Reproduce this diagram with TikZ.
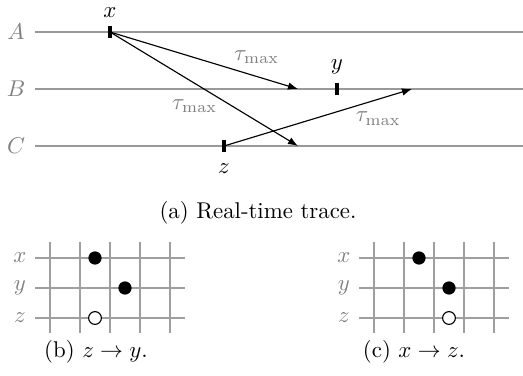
\documentclass[tikz,border=0pt]{standalone}
\usepackage{amsmath}
\usetikzlibrary{arrows.meta,positioning}

\tikzset{
  proc/.style={gray!80,line width=0.5pt},
  proclabel/.style={text=gray},
  evtick/.style={fill=black,inner sep=0pt,minimum width=1.6pt,minimum height=5pt},
  msg/.style={->,line width=0.5pt},
  delay/.style={text=gray},
  gridline/.style={gray!75,line width=0.45pt},
  fulldot/.style={circle,fill=black,inner sep=0pt,minimum size=5.8pt},
  emptydot/.style={circle,draw=black,fill=white,line width=0.5pt,inner sep=0pt,minimum size=5.6pt},
}

\begin{document}
\begin{tikzpicture}[x=4.38pt,y=-4.38pt,>={Latex[length=4.4pt,width=3.3pt]}]
\useasboundingbox (0,0) rectangle (52.3,37.5);

% processes
\foreach \p/\row in {A/3.2,B/8.9,C/14.6}{
  \node[proclabel] (l\p) at (1.6,\row) {$\p$};
  \coordinate (s\p) at (3.5,\row);
  \coordinate (e\p) at (52.3,\row);
  \draw[proc] (s\p) -- (e\p);
}

% events
\node[evtick] (ex) at (11,3.2) {};
\node[evtick] (ey) at (33.7,8.9) {};
\node[evtick] (ez) at (22.4,14.6) {};
\node[above=0.3pt of ex] (nx) {$x$};
\node[above=0.3pt of ey] (ny) {$y$};
\node[below=1.5pt of ez] (nz) {$z$};

% messages, each delayed by at most tau_max
\coordinate (txy) at (29.8,8.9);
\coordinate (txz) at (29.8,14.6);
\coordinate (tzy) at (41.2,8.9);
\draw[msg] (ex.center) -- node[delay,pos=0.78,above=2pt] (d1) {$\tau_{\max}$} (txy);
\draw[msg] (ex.center) -- node[delay,pos=0.45,below=3.5pt] (d2) {$\tau_{\max}$} (txz);
\draw[msg] (ez.center) -- node[delay,pos=0.82,below=2pt] (d3) {$\tau_{\max}$} (tzy);

\node (capa) at (25.8,21.3) {(a) Real-time trace.};

% the two orders
\foreach \gx/\g/\oc in {3.5/b/6,35.9/c/9}{
  \foreach \r/\v in {0/x,1/y,2/z}{
    \node[proclabel] (\g\v) at (\gx-1.5,25.8+3*\r) {$\v$};
    \draw[gridline] (\gx,25.8+3*\r) -- ++(15,0);
  }
  \foreach \c in {0,...,4}
    \draw[gridline] ({\gx+1.5+3*\c},24.2) -- ++(0,9.1);
  \node[fulldot] (\g dx) at (\gx+6,25.8) {};
  \node[fulldot] (\g dy) at (\gx+9,28.8) {};
  \node[emptydot] (\g dz) at (\gx+\oc,31.8) {};
}

\node (capb) at (9.6,35.2) {(b) $z \to y$.};
\node (capc) at (41.4,35.2) {(c) $x \to z$.};

\end{tikzpicture}
\end{document}
